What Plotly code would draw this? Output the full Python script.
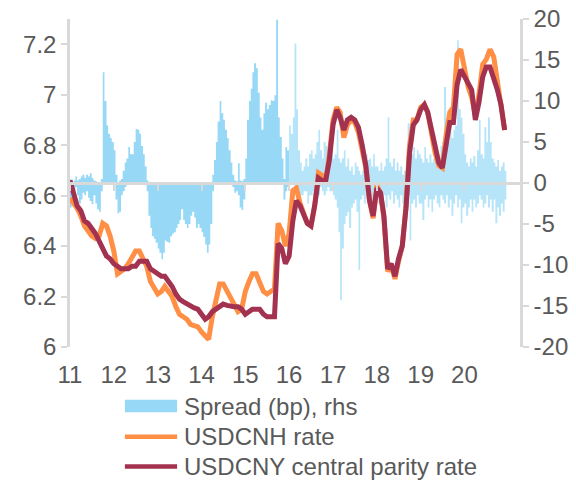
import pandas as pd
import plotly.graph_objects as go

# monthly rates, one row per year 2011..2020
usdcnh_rate = [
    6.59, 6.57, 6.55, 6.52, 6.48, 6.46, 6.44, 6.43, 6.44, 6.49, 6.48, 6.44,
    6.38, 6.29, 6.30, 6.31, 6.33, 6.36, 6.38, 6.38, 6.35, 6.32, 6.26, 6.23,
    6.21, 6.22, 6.24, 6.22, 6.20, 6.16, 6.13, 6.12, 6.11, 6.09, 6.085, 6.08,
    6.06, 6.04, 6.03, 6.12, 6.19, 6.25, 6.25, 6.22, 6.19, 6.17, 6.14, 6.15,
    6.22, 6.26, 6.29, 6.29, 6.25, 6.22, 6.21, 6.22, 6.23, 6.49, 6.46, 6.40,
    6.45, 6.62, 6.63, 6.57, 6.53, 6.49, 6.48, 6.56, 6.69, 6.68, 6.66, 6.76,
    6.90, 6.95, 6.93, 6.83, 6.88, 6.90, 6.89, 6.85, 6.78, 6.71, 6.58, 6.51,
    6.64, 6.61, 6.51, 6.30, 6.32, 6.27, 6.34, 6.40, 6.56, 6.80, 6.90, 6.90,
    6.95, 6.96, 6.93, 6.85, 6.77, 6.72, 6.71, 6.84, 6.93, 6.95, 7.16, 7.18,
    7.10, 7.03, 6.99, 6.92, 7.00, 7.12, 7.14, 7.18, 7.15, 7.06, 6.98, 6.86,
]
usdcny_parity = [
    6.66, 6.60, 6.56, 6.54, 6.50, 6.49, 6.47, 6.45, 6.42, 6.39, 6.36, 6.35,
    6.33, 6.32, 6.31, 6.31, 6.31, 6.32, 6.32, 6.34, 6.34, 6.34, 6.31, 6.30,
    6.285, 6.28, 6.28, 6.26, 6.24, 6.21, 6.19, 6.18, 6.17, 6.16, 6.155, 6.15,
    6.13, 6.11, 6.12, 6.14, 6.15, 6.16, 6.17, 6.165, 6.16, 6.16, 6.16, 6.15,
    6.13, 6.14, 6.15, 6.15, 6.15, 6.13, 6.12, 6.12, 6.12, 6.41, 6.39, 6.33,
    6.36, 6.50, 6.58, 6.56, 6.53, 6.49, 6.48, 6.56, 6.67, 6.66, 6.66, 6.74,
    6.88, 6.94, 6.91, 6.86, 6.90, 6.91, 6.90, 6.87, 6.80, 6.72, 6.58, 6.52,
    6.63, 6.61, 6.52, 6.31, 6.33, 6.28, 6.35, 6.40, 6.55, 6.77, 6.88, 6.90,
    6.94, 6.96, 6.93, 6.86, 6.78, 6.73, 6.71, 6.81, 6.89, 6.89, 7.04, 7.10,
    7.07, 7.04, 7.02, 6.90, 6.97, 7.07, 7.11, 7.11, 7.07, 7.02, 6.96, 6.86,
]

# spread (bp), half-monthly upper and lower extent, one row per year
spread_high = [
    0.5, 0, 0.3, 0.8, 0.3, 0.5, 0.8, 1.0, 0.6, 1.0, 0.8, 1.2, 0.6, 0.3, 0.2, 0, 0, 0.5, 13.5, 10, 7, 6, 5.5, 5,
    4, 1, 0, 0.3, 0.5, 1.5, 2.5, 3, 4.4, 3.5, 3.5, 5, 6.6, 6.5, 6, 4.5, 3.5, 2, 0.3, 0, 0, 0, 0, 0,
    0, 0, 0, 0, 0, 0, 0, 0, 0, 0, 0, 0, 0, 0, 0, 0, 0, 0, 0, 0, 0, 0, 0, 0,
    0, 0, 0, 0, 0, 0, 1, 2.8, 5, 7.5, 10, 8.5, 7.7, 6.5, 5.5, 4, 2.5, 1, 0.3, 0.2, 2.4, 0.3, 0.2, 0.5,
    3, 7.7, 10, 11.5, 13.5, 14.6, 14, 11, 8, 6.5, 8.5, 9.8, 9, 9.5, 10.1, 10, 10.7, 19.9, 8, 5.6, 3, 0.5, 4.4, 4,
    7, 6, 8, 17, 9, 4, 2.5, 1.5, 2, 3, 2, 3.5, 4, 3, 3.5, 5, 6.5, 4, 3, 5, 4.5, 3.5, 3, 5,
    3, 3.5, 6.5, 3, 2.5, 3, 4, 2, 3, 1.5, 2, 1, 2.5, 2, 1.5, 1, 1.5, 2.5, 3.5, 2.8, 3, 2, 3.5, 2,
    2, 1.5, 2.5, 1.5, 2, 3, 8, 2.5, 2, 3, 1.5, 2.5, 1.5, 2, 1, 1.5, 3, 7.3, 4, 3.5, 4.4, 3, 4, 3.5,
    3, 2.5, 4.4, 3, 2.5, 3.5, 2.5, 3, 4, 3, 2.5, 4.5, 5, 11.7, 6, 5, 7, 5.5, 6.5, 7, 17.4, 9, 8, 6,
    3.5, 2.5, 2, 3, 2.5, 3.3, 2, 4, 7.7, 3.5, 3, 6.8, 5, 8, 5, 3, 2.5, 2, 2.8, 1.5, 2, 2.5, 1.5, 0,
]
spread_low = [
    -3, -2.5, -1, -0.5, -1.5, -2.5, -2, -1.2, -1.5, -1, -1.8, -2.2, -2.6, -1.5, -2.5, -3.2, -3.5, -1, 0, 0, 0, 0, 0, 0,
    0, -2, -3.7, -3.5, -1.5, -1, -0.5, 0, 0, 0, 0, 0, 0, 0, 0, 0, 0, 0, -1, -4, -5.5, -6.5, -6.8, -7.3,
    -8, -8.5, -9.3, -8.5, -7, -7.2, -7.3, -6.5, -6.2, -6, -5.5, -5, -4.5, -3.2, -4.5, -5, -5.5, -5, -4, -3.5, -4.2, -5.5, -5, -5.5,
    -6, -6.6, -7.5, -8.5, -7.5, -5, -1, 0, 0, 0, 0, 0, 0, 0, 0, 0, 0, -0.5, -1.2, -1.0, -1.5, -3.0, -3.3, -2,
    0, 0, 0, 0, 0, 0, 0, 0, 0, 0, 0, 0, 0, 0, 0, 0, 0, 0, 0, 0, 0, -2, -1, -0.5,
    0, 0, 0, -0.5, -0.5, -1, -1.5, -1.5, -1, -1, -2.5, -1.5, -1.5, -1, -2.5, -2, -1.5, -0.5, -1, -1.5, -1, -0.5, -1, -1,
    -1.5, -2, -3, -6, -14.3, -8, -5, -4, -3.5, -5.5, -3, -2.5, -2, -3.5, -10.6, -2, -1.5, -2.5, -1, -2, -1.5, -2.5, -1, -1.5,
    -1.5, -2.5, -1, -2, -1.5, -3, -1.5, -2, -1, -2.5, -1.5, -2, -3, -1.5, -2.5, -3.7, -2, -1.5, -7, -2.5, -2, -3, -1.5, -2.5,
    -2.5, -4.5, -2, -1.5, -3, -2, -3.5, -2, -1.5, -2.5, -3, -1.5, -2, -2.5, -1.5, -3, -2, -4, -2.5, -1.5, -3, -2, -4.9, -3,
    -2.5, -4, -3, -2, -3.5, -2, -3, -2.5, -1.5, -2, -3, -2.5, -1.5, -3, -2, -3.5, -2, -4.9, -3, -4, -2.5, -3.5, -2, 0,
]

year_ticks = ["2011-01-01", "2012-01-01", "2013-01-01", "2014-01-01", "2015-01-01",
              "2016-01-01", "2017-01-01", "2018-01-01", "2019-01-01", "2020-01-01"]
year_labels = ["11", "12", "13", "14", "15", "16", "17", "18", "19", "20"]
lhs_ticks = [6, 6.2, 6.4, 6.6, 6.8, 7, 7.2]
lhs_labels = ["6", "6.2", "6.4", "6.6", "6.8", "7", "7.2"]
rhs_ticks = [-20, -15, -10, -5, 0, 5, 10, 15, 20]
rhs_labels = ["-20", "-15", "-10", "-5", "0", "5", "10", "15", "20"]

months = pd.date_range("2011-01-01", periods=len(usdcny_parity), freq="MS")
half_months = pd.date_range("2011-01-01", periods=len(spread_high), freq="SMS")

BLUE = "#97D8F6"
BLUE_LIGHT = "rgba(151,216,246,0.7)"
ORANGE = "#FF8F45"
MAROON = "#A2324F"
GREY = "#D9D9D9"
TEXT = "#595959"
FONT_SIZE = 24
x_range = ["2011-01-01", "2021-04-08"]

fig = go.Figure()

# spread on the rhs axis (y), dense part up to 2015, thinner noise afterwards
split = 120
for lo, hi, colour in [(0, split + 1, BLUE), (split, len(spread_high), BLUE_LIGHT)]:
    for series in (spread_high, spread_low):
        fig.add_trace(go.Scatter(
            x=half_months[lo:hi], y=series[lo:hi], xaxis="x", yaxis="y",
            mode="lines", line=dict(width=0, shape="hv"),
            fill="tozeroy", fillcolor=colour, hoverinfo="skip",
        ))

fig.add_trace(go.Scatter(x=months, y=usdcnh_rate, xaxis="x", yaxis="y2", mode="lines",
                         line=dict(color=ORANGE, width=5)))
fig.add_trace(go.Scatter(x=months, y=usdcny_parity, xaxis="x", yaxis="y2", mode="lines",
                         line=dict(color=MAROON, width=5)))

# invisible copy so the date axis along the rhs zero gets drawn
fig.add_trace(go.Scatter(x=half_months, y=spread_high, xaxis="x2", yaxis="y",
                         mode="lines", opacity=0, hoverinfo="skip"))

axis_common = dict(showgrid=False, zeroline=False, automargin=False)
fig.update_layout(
    width=576, height=480,
    margin=dict(l=70, r=56, t=19, b=133, autoexpand=False),
    plot_bgcolor="white", paper_bgcolor="white",
    showlegend=False,
    font=dict(family="Liberation Sans, Arial, sans-serif", size=FONT_SIZE, color=TEXT),
    xaxis=dict(type="date", range=x_range, tickvals=year_ticks, ticktext=year_labels,
               showline=False, ticks="", ticklabelstandoff=11, **axis_common),
    xaxis2=dict(type="date", range=x_range, overlaying="x", anchor="free", position=0.5,
                tickvals=year_ticks, showticklabels=False,
                showline=True, linecolor=GREY, linewidth=2.5, layer="above traces",
                ticks="outside", ticklen=6, tickwidth=2, tickcolor=GREY, **axis_common),
    yaxis=dict(side="right", range=[-20, 20], tickvals=rhs_ticks, ticktext=rhs_labels,
               showline=True, linecolor=GREY, linewidth=2.5,
               ticks="outside", ticklen=6, tickwidth=2, tickcolor=GREY, **axis_common),
    yaxis2=dict(side="left", overlaying="y", range=[6, 7.3], tickvals=lhs_ticks,
                ticktext=lhs_labels, showline=True, linecolor=GREY, linewidth=2.5,
                ticks="outside", ticklen=6, tickwidth=2, tickcolor=GREY, **axis_common),
)

# legend drawn by hand so the keys get the wide Excel look
legend_items = [
    ("Spread (bp), rhs", "box", BLUE, -0.180),
    ("USDCNH rate", "line", ORANGE, -0.274),
    ("USDCNY central parity rate", "line", MAROON, -0.364),
]
for label, kind, colour, ypos in legend_items:
    if kind == "box":
        fig.add_shape(type="rect", xref="paper", yref="paper",
                      x0=0.122, x1=0.238, y0=ypos - 0.019, y1=ypos + 0.019,
                      fillcolor=colour, line=dict(width=0))
    else:
        fig.add_shape(type="line", xref="paper", yref="paper",
                      x0=0.122, x1=0.238, y0=ypos, y1=ypos,
                      line=dict(color=colour, width=4.5))
    fig.add_annotation(text=label, xref="paper", yref="paper", x=0.249, y=ypos,
                       xanchor="left", yanchor="middle", showarrow=False,
                       font=dict(size=FONT_SIZE, color=TEXT))

# the page is photographed at exactly the figure size, so drop the body margin
fig.write_html("out.html", config={"displayModeBar": False},
               post_script="document.body.style.margin = '0';")
